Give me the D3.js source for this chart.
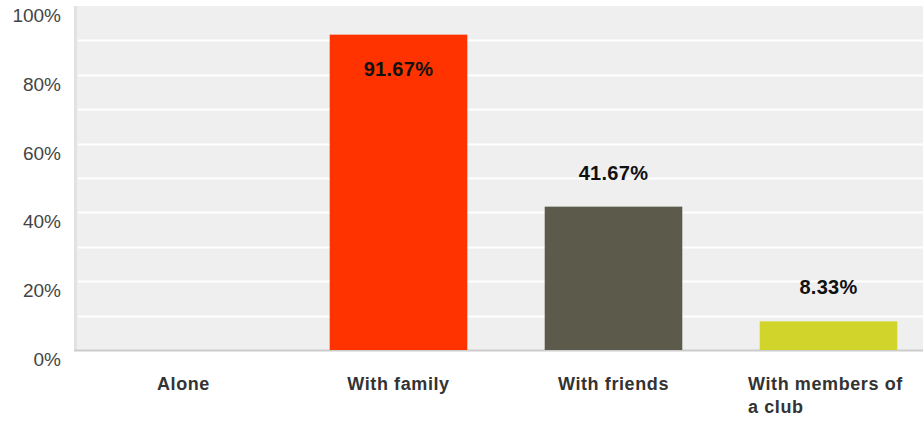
<!DOCTYPE html>
<html><head><meta charset="utf-8">
<script src="https://cdn.jsdelivr.net/npm/d3@7"></script>
<style>body{margin:0;background:#fff;}svg{display:block;font-family:"Liberation Sans",Arial,sans-serif;}</style>
</head><body>
<svg id="c" width="923" height="421"></svg>
<script>
const categories = ["Alone", "With family", "With friends", "With members of a club"];
const labelLines = [["Alone"], ["With family"], ["With friends"], ["With members of", "a club"]];
const values = [0, 91.67, 41.67, 8.33];
const colors = ["#ff3300", "#ff3300", "#5c5a4b", "#d1d42a"];
const tickValues = [0, 20, 40, 60, 80, 100];
const gridValues = [10, 20, 30, 40, 50, 60, 70, 80, 90];

const svg = d3.select("#c");
const x0 = 76, x1 = 936, yTop = 6, yBot = 350;
const x = d3.scaleBand().domain(categories).range([x0, x1]).paddingInner(0.36).paddingOuter(0.18);
const y = d3.scaleLinear().domain([0, 100]).range([yBot, yTop]);

svg.append("rect").attr("x", x0).attr("y", yTop).attr("width", 923 - x0).attr("height", yBot - yTop).attr("fill", "#efefef");
svg.append("g").selectAll("line").data(gridValues).join("line")
  .attr("x1", x0 + 2).attr("x2", 923).attr("y1", d => Math.round(y(d)) + 0.5).attr("y2", d => Math.round(y(d)) + 0.5)
  .attr("stroke", "#ffffff").attr("stroke-width", 2);
svg.append("rect").attr("x", x0 - 2).attr("y", yTop).attr("width", 3).attr("height", yBot - yTop + 1).attr("fill", "#e2e2e2");
svg.append("line").attr("x1", x0 - 2).attr("x2", 923).attr("y1", yBot + 0.5).attr("y2", yBot + 0.5).attr("stroke", "#cccccc").attr("stroke-width", 2);

svg.append("g").selectAll("rect").data(categories).join("rect")
  .attr("x", d => x(d)).attr("width", x.bandwidth())
  .attr("y", (d, i) => y(values[i])).attr("height", (d, i) => y(0) - y(values[i]))
  .attr("fill", (d, i) => colors[i]);

svg.append("g").selectAll("text").data(categories).join("text")
  .filter((d, i) => values[i] > 0)
  .attr("x", d => x(d) + x.bandwidth() / 2)
  .attr("y", d => { const v = values[categories.indexOf(d)]; return v > 80 ? y(v) + 41 : y(v) - 27; })
  .attr("text-anchor", "middle").attr("font-size", 20).attr("font-weight", "bold").attr("fill", "#111")
  .attr("letter-spacing", 0.3)
  .text(d => values[categories.indexOf(d)].toFixed(2) + "%");

svg.append("g").selectAll("text").data(tickValues).join("text")
  .attr("x", 61).attr("y", d => y(d) + 16).attr("text-anchor", "end")
  .attr("font-size", 19).attr("fill", "#444").text(d => d + "%");

const cl = svg.append("g").selectAll("text").data(categories).join("text")
  .attr("x", d => x(d) + x.bandwidth() / 2)
  .attr("y", 390).attr("font-size", 18).attr("font-weight", "bold").attr("fill", "#333")
  .attr("letter-spacing", 0.6);
cl.each(function(d, i) {
  const t = d3.select(this);
  const lines = labelLines[i];
  if (lines.length === 1) {
    t.attr("text-anchor", "middle").text(lines[0]);
  } else {
    t.attr("text-anchor", "start").attr("x", 748);
    lines.forEach((l, j) => t.append("tspan").attr("x", 748).attr("dy", j === 0 ? 0 : 23).text(l));
  }
});
</script>
</body></html>
